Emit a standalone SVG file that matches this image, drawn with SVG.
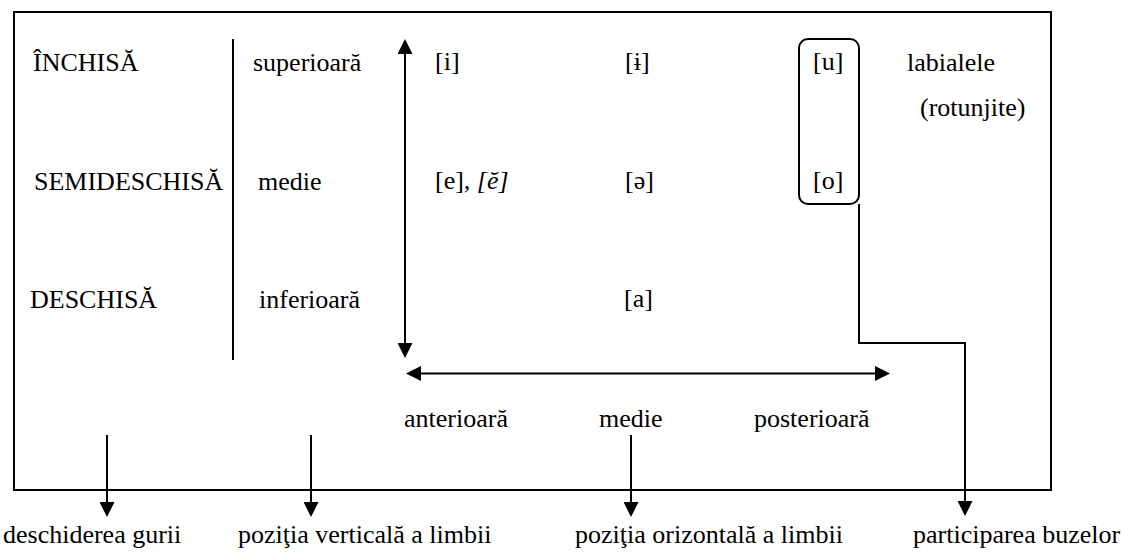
<svg xmlns="http://www.w3.org/2000/svg" width="1128" height="554" viewBox="0 0 1128 554">
  <style>
    .t text { font-family: 'Liberation Serif', 'DejaVu Serif', serif; font-size: 26px; fill: #000; }
    .ln { fill: none; stroke: #000; stroke-width: 2; }
    .it { font-style: italic; }
  </style>
  <defs>
    <marker id="head" viewBox="0 0 15 15" refX="0" refY="7.5" markerWidth="15" markerHeight="15" markerUnits="userSpaceOnUse" orient="auto-start-reverse">
      <path d="M0,0 L15,7.5 L0,15 z" fill="#000"/>
    </marker>
  </defs>

  <rect x="0" y="0" width="1128" height="554" fill="#fff"/>

  <!-- outer frame -->
  <rect id="frame" class="ln" x="14" y="12" width="1037" height="478"/>

  <g class="t" font-family="Liberation Serif, serif" font-size="26">
    <!-- mouth opening column -->
    <g id="deschidere">
      <text x="33" y="71">ÎNCHISĂ</text>
      <text x="34" y="190">SEMIDESCHISĂ</text>
      <text x="30" y="308">DESCHISĂ</text>
    </g>

    <!-- vertical tongue position column -->
    <g id="verticala">
      <text x="253" y="71">superioară</text>
      <text x="258" y="190">medie</text>
      <text x="259" y="308">inferioară</text>
    </g>

    <!-- vowels -->
    <g id="vocale">
      <text x="435" y="70">[i]</text>
      <text x="625" y="70">[ɨ]</text>
      <text x="435" y="189">[e], <tspan class="it">[ĕ]</tspan></text>
      <text x="625" y="189">[ə]</text>
      <text x="624" y="307">[a]</text>
    </g>

    <!-- rounded vowels -->
    <g id="labiale">
      <rect class="ln" x="799" y="39" width="60" height="165" rx="9"/>
      <text x="813" y="70">[u]</text>
      <text x="813" y="189">[o]</text>
      <text x="907" y="71">labialele</text>
      <text x="920" y="116">(rotunjite)</text>
    </g>

    <!-- horizontal tongue position -->
    <g id="orizontala">
      <text x="404" y="427">anterioară</text>
      <text x="599" y="427">medie</text>
      <text x="754" y="427">posterioară</text>
    </g>

    <!-- bottom criteria -->
    <g id="criterii">
      <text x="3" y="543">deschiderea gurii</text>
      <text x="238" y="543">poziţia verticală a limbii</text>
      <text x="575" y="543">poziţia orizontală a limbii</text>
      <text x="913" y="543">participarea buzelor</text>
    </g>
  </g>

  <!-- connectors -->
  <g id="connectors" class="ln">
    <line x1="233" y1="39" x2="233" y2="360"/>
    <line x1="405" y1="54" x2="405" y2="343" marker-start="url(#head)" marker-end="url(#head)"/>
    <line x1="421" y1="373.5" x2="875" y2="373.5" marker-start="url(#head)" marker-end="url(#head)"/>
    <line x1="107" y1="435" x2="107" y2="502" marker-end="url(#head)"/>
    <line x1="311" y1="435" x2="311" y2="502" marker-end="url(#head)"/>
    <line x1="631" y1="435" x2="631" y2="502" marker-end="url(#head)"/>
    <path d="M859,204 V343 H965 V501" marker-end="url(#head)"/>
  </g>
</svg>
